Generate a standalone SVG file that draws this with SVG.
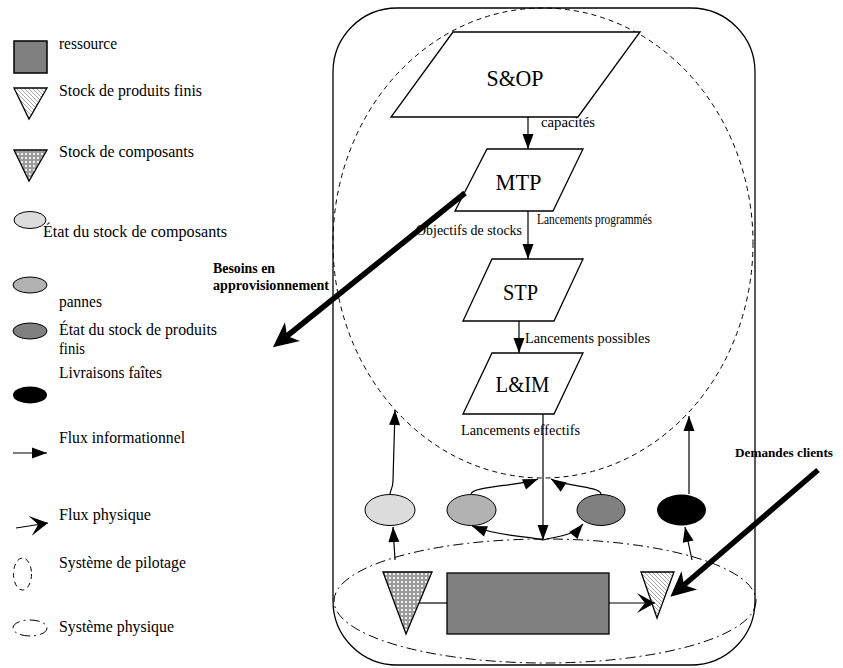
<svg xmlns="http://www.w3.org/2000/svg" width="843" height="668" viewBox="0 0 843 668">
  <style>
    .t { font-family: "Liberation Serif", "Times New Roman", serif; fill: #000; }
    .lg { font-size: 17px; }
    .lb { font-size: 15px; }
    .nd { font-size: 24px; }
    .bd { font-size: 15px; font-weight: bold; }
    .ln { fill: none; stroke: #000; stroke-width: 1.2; }
    .shape { stroke: #000; stroke-width: 1.3; }
    .thick { fill: none; stroke: #000; stroke-width: 5.5; }
    .pilot { fill: none; stroke: #000; stroke-width: 1; stroke-dasharray: 5 4; }
    .phys { fill: none; stroke: #000; stroke-width: 1; stroke-dasharray: 10 4 2 4; }
  </style>
  <defs>
    <marker id="info" viewBox="-16 -7 17 14" refX="0" refY="0" markerWidth="17" markerHeight="14" markerUnits="userSpaceOnUse" orient="auto">
      <path d="M-15,-5.5 L0,0 L-15,5.5 Z" fill="#000"/>
    </marker>
    <marker id="physArrow" viewBox="-19 -11 20 22" refX="0" refY="0" markerWidth="20" markerHeight="22" markerUnits="userSpaceOnUse" orient="auto">
      <path d="M0,0 L-18,-10 L-10,0 L-18,10 Z" fill="#000"/>
    </marker>
    <marker id="bigArrow" viewBox="-8 -13 27 26" refX="0" refY="0" markerWidth="27" markerHeight="26" markerUnits="userSpaceOnUse" orient="auto">
      <path d="M18,0 L-7,-12 L0,0 L-7,12 Z" fill="#000"/>
    </marker>
    <pattern id="hatch" width="4" height="4" patternUnits="userSpaceOnUse">
      <rect width="4" height="4" fill="#fff"/>
      <path d="M-1,-1 L5,5 M-1,3 L1,5 M3,-1 L5,1" stroke="#808080" stroke-width="0.7"/>
    </pattern>
    <pattern id="checker" width="4" height="4" patternUnits="userSpaceOnUse">
      <rect width="4" height="4" fill="#9c9c9c"/>
      <rect x="1" y="1" width="2" height="2" fill="#f0f0f0"/>
    </pattern>
  </defs>

  <!-- legend -->
  <g id="legend">
    <rect x="14" y="41" width="33" height="32" fill="#808080" stroke="#000" stroke-width="1.5"/>
    <text class="t lg" x="59" y="49" textLength="58" lengthAdjust="spacingAndGlyphs">ressource</text>

    <polygon points="14,88 47,88 29,119" fill="url(#hatch)" class="shape"/>
    <text class="t lg" x="59" y="96" textLength="143" lengthAdjust="spacingAndGlyphs">Stock de produits finis</text>

    <polygon points="14,150 47,150 29,181" fill="url(#checker)" class="shape"/>
    <text class="t lg" x="59" y="157" textLength="135" lengthAdjust="spacingAndGlyphs">Stock de composants</text>

    <ellipse cx="30" cy="220" rx="16" ry="8.5" fill="#dcdcdc" stroke="#000" stroke-width="1"/>
    <text class="t lg" x="43" y="237" textLength="184" lengthAdjust="spacingAndGlyphs">État du stock de composants</text>

    <ellipse cx="30" cy="285" rx="17" ry="8" fill="#b2b2b2" stroke="#000" stroke-width="1"/>
    <text class="t lg" x="59" y="307" textLength="43" lengthAdjust="spacingAndGlyphs">pannes</text>

    <ellipse cx="30" cy="331" rx="17" ry="8" fill="#808080" stroke="#000" stroke-width="1"/>
    <text class="t lg" x="59" y="335" textLength="158" lengthAdjust="spacingAndGlyphs">État du stock de produits</text>
    <text class="t lg" x="59" y="354" textLength="26" lengthAdjust="spacingAndGlyphs">finis</text>

    <text class="t lg" x="59" y="378" textLength="103" lengthAdjust="spacingAndGlyphs">Livraisons faîtes</text>
    <ellipse cx="30" cy="395" rx="17" ry="8.5" fill="#000"/>

    <line x1="13" y1="453" x2="47" y2="453" class="ln" marker-end="url(#info)"/>
    <text class="t lg" x="59" y="443" textLength="126" lengthAdjust="spacingAndGlyphs">Flux informationnel</text>

    <line x1="16" y1="528" x2="48" y2="523" class="ln" marker-end="url(#physArrow)"/>
    <text class="t lg" x="59" y="520" textLength="92" lengthAdjust="spacingAndGlyphs">Flux physique</text>

    <ellipse cx="22.5" cy="574" rx="9" ry="16" class="pilot" stroke-dasharray="4 3"/>
    <text class="t lg" x="59" y="568" textLength="127" lengthAdjust="spacingAndGlyphs">Système de pilotage</text>

    <ellipse cx="30" cy="628" rx="17" ry="8" class="phys" stroke-dasharray="7 3 2 3"/>
    <text class="t lg" x="59" y="632" textLength="115" lengthAdjust="spacingAndGlyphs">Système physique</text>
  </g>

  <!-- enclosing system -->
  <g id="system">
    <rect x="333" y="8" width="422" height="657" rx="64" ry="64" fill="none" stroke="#000" stroke-width="1.3"/>
    <ellipse id="pilotage" cx="543" cy="243" rx="210" ry="235" class="pilot"/>
    <ellipse id="physique" cx="545" cy="601" rx="211" ry="62" class="phys"/>
  </g>

  <!-- decision levels -->
  <g id="sop">
    <polygon points="453,32 640,32 578,117 391,117" fill="#fff" class="shape"/>
    <text class="t nd" x="515" y="86" text-anchor="middle" textLength="57" lengthAdjust="spacingAndGlyphs">S&amp;OP</text>
  </g>
  <g id="mtp">
    <polygon points="487,149 583,149 553,211 455,211" fill="#fff" class="shape"/>
    <text class="t nd" x="518.5" y="190" text-anchor="middle" textLength="46" lengthAdjust="spacingAndGlyphs">MTP</text>
  </g>
  <g id="stp">
    <polygon points="492,259 583,259 554,321 463,321" fill="#fff" class="shape"/>
    <text class="t nd" x="520.5" y="300" text-anchor="middle" textLength="35" lengthAdjust="spacingAndGlyphs">STP</text>
  </g>
  <g id="lim">
    <polygon points="492,353 583,353 554,414 463,414" fill="#fff" class="shape"/>
    <text class="t nd" x="522.5" y="392" text-anchor="middle" textLength="54" lengthAdjust="spacingAndGlyphs">L&amp;IM</text>
  </g>

  <!-- state indicators -->
  <g id="etat-composants"><ellipse cx="390" cy="510" rx="25" ry="15.5" fill="#dcdcdc" stroke="#000" stroke-width="1"/></g>
  <g id="pannes"><ellipse cx="471.5" cy="510" rx="24.5" ry="15.5" fill="#b2b2b2" stroke="#000" stroke-width="1"/></g>
  <g id="etat-produits"><ellipse cx="601" cy="510" rx="24" ry="15.5" fill="#808080" stroke="#000" stroke-width="1"/></g>
  <g id="livraisons"><ellipse cx="681.5" cy="510" rx="24.5" ry="15.5" fill="#000"/></g>

  <!-- physical system -->
  <g id="stock-composants"><polygon points="383,572 432,572 406,634" fill="url(#checker)" class="shape"/></g>
  <g id="ressource"><rect x="447" y="573" width="162" height="61" fill="#808080" class="shape"/></g>
  <g id="stock-produits"><polygon points="641,572 674,572 657,618" fill="url(#hatch)" class="shape"/></g>

  <!-- flows -->
  <g id="connectors">
    <line x1="528" y1="117" x2="528" y2="149" class="ln" marker-end="url(#info)"/>
    <line x1="528" y1="211" x2="528" y2="259" class="ln" marker-end="url(#info)"/>
    <line x1="519" y1="321" x2="519" y2="353" class="ln" marker-end="url(#info)"/>
    <line x1="543" y1="414" x2="543" y2="540" class="ln" marker-end="url(#info)"/>

    <path d="M543,540 C530,536 500,537 472,526" class="ln" marker-end="url(#info)"/>
    <path d="M543,540 C556,536 572,537 583,524" class="ln" marker-end="url(#info)"/>

    <path d="M471,494 C472,486 520,486 538,479" class="ln" marker-end="url(#info)"/>
    <path d="M601,494 C600,486 562,486 551,479" class="ln" marker-end="url(#info)"/>

    <path d="M390,494 C391,488 393,488 393,480 L395,410" class="ln" marker-end="url(#info)"/>
    <line x1="689" y1="494" x2="689" y2="416" class="ln" marker-end="url(#info)"/>

    <line x1="395" y1="560" x2="393" y2="527" class="ln" marker-end="url(#info)"/>
    <line x1="692" y1="560" x2="685" y2="527" class="ln" marker-end="url(#info)"/>

    <line x1="419" y1="603" x2="447" y2="603" class="ln"/>
    <line x1="609" y1="603" x2="655" y2="603" class="ln" marker-end="url(#physArrow)"/>

    <line x1="465" y1="193" x2="287" y2="336" class="thick" marker-end="url(#bigArrow)"/>
    <line x1="818" y1="470" x2="684" y2="585" class="thick" marker-end="url(#bigArrow)"/>
  </g>

  <!-- flow labels -->
  <g id="labels">
    <text class="t lb" x="541" y="127" textLength="54" lengthAdjust="spacingAndGlyphs">capacités</text>
    <text class="t lb" x="537" y="224" textLength="115" lengthAdjust="spacingAndGlyphs">Lancements programmés</text>
    <text class="t lb" x="416" y="235" textLength="106" lengthAdjust="spacingAndGlyphs">Objectifs de stocks</text>
    <text class="t lb" x="525" y="343" textLength="125" lengthAdjust="spacingAndGlyphs">Lancements possibles</text>
    <text class="t lb" x="461" y="435" textLength="119" lengthAdjust="spacingAndGlyphs">Lancements effectifs</text>
    <text class="t bd" x="213" y="273" textLength="62" lengthAdjust="spacingAndGlyphs">Besoins en</text>
    <text class="t bd" x="213" y="290" textLength="116" lengthAdjust="spacingAndGlyphs">approvisionnement</text>
    <text class="t bd" x="735" y="457" style="font-size:13px" textLength="98" lengthAdjust="spacingAndGlyphs">Demandes clients</text>
  </g>
</svg>
